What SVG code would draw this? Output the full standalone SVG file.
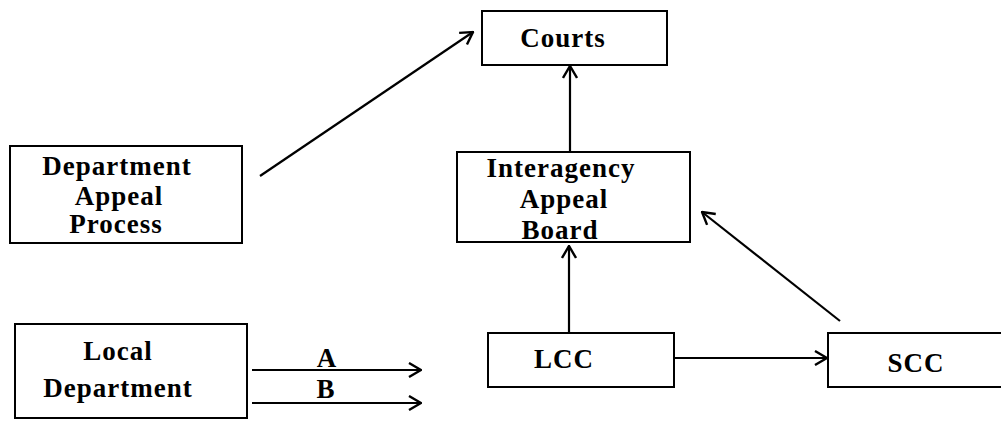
<svg xmlns="http://www.w3.org/2000/svg" width="1001" height="422" viewBox="0 0 1001 422">
<defs>
<style>
.box{fill:#fff;stroke:#000;stroke-width:2}
.t{font-family:"Liberation Serif","Times New Roman",serif;font-weight:bold;font-size:27px;letter-spacing:1px;text-anchor:middle;fill:#000}
.c{fill:none;stroke:#000;stroke-width:2.2}
</style>
<marker id="ah" viewBox="0 0 14 16" refX="13" refY="8" markerWidth="14" markerHeight="16" markerUnits="userSpaceOnUse" orient="auto">
<path d="M1,1 L13,8 L1,15" fill="none" stroke="#000" stroke-width="2.4" stroke-linejoin="miter"/>
</marker>
</defs>
<rect width="1001" height="422" fill="#fff"/>
<g id="courts">
<rect class="box" x="482" y="11" width="185" height="54"/>
<text class="t" x="563" y="47">Courts</text>
</g>
<g id="dept-appeal">
<rect class="box" x="10" y="146" width="232" height="97"/>
<text class="t" x="117" y="175">Department</text>
<text class="t" x="119" y="205">Appeal</text>
<text class="t" x="116" y="233">Process</text>
</g>
<g id="interagency">
<rect class="box" x="457" y="152" width="233" height="90"/>
<text class="t" x="561" y="177">Interagency</text>
<text class="t" x="564" y="208">Appeal</text>
<text class="t" x="560" y="239">Board</text>
</g>
<g id="local">
<rect class="box" x="15" y="324" width="232" height="94"/>
<text class="t" x="118" y="360">Local</text>
<text class="t" x="118" y="397">Department</text>
</g>
<g id="lcc">
<rect class="box" x="488" y="333" width="186" height="54"/>
<text class="t" x="564" y="368">LCC</text>
</g>
<g id="scc">
<rect class="box" x="828" y="333" width="180" height="54"/>
<text class="t" x="916" y="372">SCC</text>
</g>
<g id="connectors">
<path class="c" d="M260,176 Q372,100 473,32" marker-end="url(#ah)"/>
<path class="c" d="M570,151 L570,66" marker-end="url(#ah)"/>
<path class="c" d="M569,333 L569,246" marker-end="url(#ah)"/>
<path class="c" d="M840,321 L702,212" marker-end="url(#ah)"/>
<path class="c" d="M674,358 L827,358" marker-end="url(#ah)"/>
<path class="c" d="M252,370 L421,370" marker-end="url(#ah)"/>
<path class="c" d="M252,403 L421,403" marker-end="url(#ah)"/>
<text class="t" x="327" y="367">A</text>
<text class="t" x="326" y="398">B</text>
</g>
</svg>
